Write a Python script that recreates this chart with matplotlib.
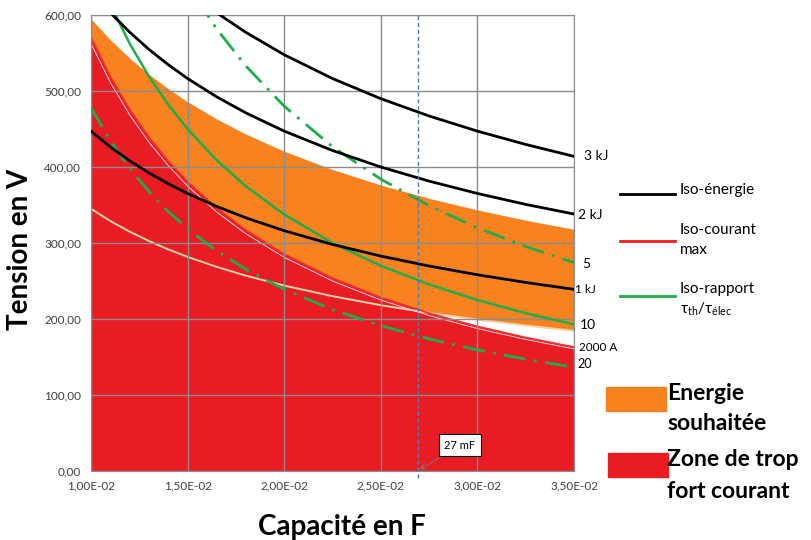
import matplotlib.pyplot as plt
from matplotlib.lines import Line2D
from matplotlib.patches import Rectangle
from matplotlib.ticker import FuncFormatter

plt.rcParams['font.family'] = ['Lato', 'DejaVu Sans']
plt.rcParams['mathtext.default'] = 'regular'

# capacitance samples (F)
cap = [0.010, 0.011, 0.012, 0.013, 0.014, 0.015, 0.0165, 0.018,
       0.020, 0.0225, 0.025, 0.0275, 0.030, 0.0325, 0.035]

# iso-energy curves (V)
e_1kj = [447.2, 426.4, 408.2, 392.2, 378.0, 365.1, 348.2, 333.3,
         316.2, 298.1, 282.8, 269.7, 258.2, 248.1, 239.0]
e_2kj = [632.5, 603.1, 577.4, 554.7, 534.6, 516.4, 492.4, 471.4,
         447.2, 421.7, 400.0, 381.4, 365.2, 350.8, 338.1]
e_3kj = [774.6, 738.5, 707.1, 679.4, 654.7, 632.5, 603.0, 577.4,
         547.7, 516.4, 489.9, 467.1, 447.2, 429.7, 414.0]

# desired energy band: upper and lower limits (V)
band_top = [595.0, 567.3, 543.2, 521.9, 502.9, 485.8, 463.2, 443.5,
            420.7, 396.7, 376.3, 358.8, 343.5, 330.0, 318.0]
band_low = [345.0, 328.9, 314.9, 302.6, 291.6, 281.7, 268.6, 257.1,
            244.0, 230.0, 218.2, 208.0, 199.2, 191.4, 184.4]

# max current 2000 A (V)
i_max = [571.0, 519.1, 475.8, 439.2, 407.9, 380.7, 346.1, 317.2,
         285.5, 253.8, 228.4, 207.6, 190.3, 175.7, 163.1]

# iso-ratio tau_th / tau_elec (V)
r_5 = [960.0, 872.7, 800.0, 738.5, 685.7, 640.0, 581.8, 533.3,
       480.0, 426.7, 384.0, 349.1, 320.0, 295.4, 274.3]
r_10 = [675.0, 613.6, 562.5, 519.2, 482.1, 450.0, 409.1, 375.0,
        337.5, 300.0, 270.0, 245.5, 225.0, 207.7, 192.9]
r_20 = [478.0, 434.5, 398.3, 367.7, 341.4, 318.7, 289.7, 265.6,
        239.0, 212.4, 191.2, 173.8, 159.3, 147.1, 136.6]

c_mark = 0.0269

ORANGE = '#f7821f'
RED = '#e91c24'
GREEN = '#1cae4a'

fig = plt.figure(figsize=(8.12, 5.4), dpi=100)
ax = fig.add_axes([91 / 812, 69 / 540, 483 / 812, 456 / 540])

ax.fill_between(cap, band_low, band_top, color=ORANGE, lw=0, zorder=1)
ax.fill_between(cap, 0, i_max, color=RED, lw=0, zorder=1.2)
ax.plot(cap, band_low, color='#f6d3ad', lw=1.4, zorder=2)
ax.plot(cap, [v * 0.985 for v in i_max], color='#ffd8d8', lw=0.7, zorder=2)
ax.plot(cap, i_max, color='#ff2a2a', lw=1.2, zorder=2)

dash_dot = (8, 3, 1, 3)
ax.plot(cap, r_5, color=GREEN, lw=2, dashes=dash_dot, zorder=3)
ax.plot(cap, r_20, color=GREEN, lw=2, dashes=dash_dot, zorder=3)
ax.plot(cap, r_10, color=GREEN, lw=1.8, zorder=3)
for v in (e_1kj, e_2kj, e_3kj):
    ax.plot(cap, v, color='black', lw=2, zorder=3.5)

ax.axvline(c_mark, ymin=-0.015, color='#4a7ebb', lw=1, ls=(0, (3, 2)),
           clip_on=False, zorder=4)

ax.set_xlim(0.010, 0.035)
ax.set_ylim(0, 600)
ax.set_xticks([0.010, 0.015, 0.020, 0.025, 0.030, 0.035])
ax.set_yticks(range(0, 601, 100))
ax.xaxis.set_major_formatter(FuncFormatter(lambda v, p: f"{v:.2E}".replace('.', ',')))
ax.yaxis.set_major_formatter(FuncFormatter(lambda v, p: f"{v:.2f}".replace('.', ',')))
ax.tick_params(length=0, labelsize=8.5, labelcolor='#404040', pad=7)
ax.grid(True, color='#8c8c8c', lw=1)
ax.set_axisbelow(False)
for s in ax.spines.values():
    s.set_color('#8c8c8c')

ax.set_xlabel("Capacité en F", fontsize=20, fontweight='bold')
ax.set_ylabel("Tension en V", fontsize=20, fontweight='bold')
ax.xaxis.set_label_coords(0.52, -0.095)
ax.yaxis.set_label_coords(-0.12, 0.485)

# curve labels on the right
labels = [("3 kJ", e_3kj, 10, 0, 10), ("2 kJ", e_2kj, 4, -1, 10),
          ("5", r_5, 8, -1, 10), ("1 kJ", e_1kj, 1, 0, 8.5),
          ("10", r_10, 6, -1, 10), ("2000 A", i_max, 5, 0, 8.5),
          ("20", r_20, 3, 3, 9)]
for txt, v, dx, dy, fs in labels:
    ax.annotate(txt, (cap[-1], v[-1]), xytext=(dx * 0.72, dy * 0.72),
                textcoords='offset points', fontsize=fs, va='center',
                ha='left', annotation_clip=False)

ax.annotate("27 mF", xy=(c_mark, 0), xytext=(0.0291, 34), fontsize=8,
            ha='center', va='center',
            bbox=dict(boxstyle='square,pad=0.5', fc='white', ec='black', lw=0.8),
            arrowprops=dict(arrowstyle='->', color='#777777', lw=0.8, ls='--'),
            zorder=6)


def fx(px):
    return px / 812


def fy(py):
    return 1 - py / 540


leg = [("black", 194, ["Iso-énergie"], [190]),
       ("#ff1a1a", 241, ["Iso-courant", "max"], [230, 250]),
       (GREEN, 296, ["Iso-rapport", r"$\tau_{th}/\tau_{élec}$"], [289, 309])]
for col, ly, txts, tys in leg:
    fig.add_artist(Line2D([fx(620), fx(675)], [fy(ly), fy(ly)], color=col, lw=2))
    for t, ty in zip(txts, tys):
        fig.text(fx(680), fy(ty), t, fontsize=11, va='center', ha='left')

fig.add_artist(Rectangle((fx(606), fy(411)), 60 / 812, 24 / 540,
                         transform=fig.transFigure, color=ORANGE))
fig.add_artist(Rectangle((fx(608), fy(477)), 60 / 812, 24 / 540,
                         transform=fig.transFigure, color=RED))
for t, ty in [("Energie", 394), ("souhaitée", 424), ("Zone de trop", 460),
              ("fort courant", 491)]:
    fig.text(fx(667), fy(ty), t, fontsize=16.5, fontweight='bold',
             va='center', ha='left')

fig.savefig("out.png", dpi=100)
